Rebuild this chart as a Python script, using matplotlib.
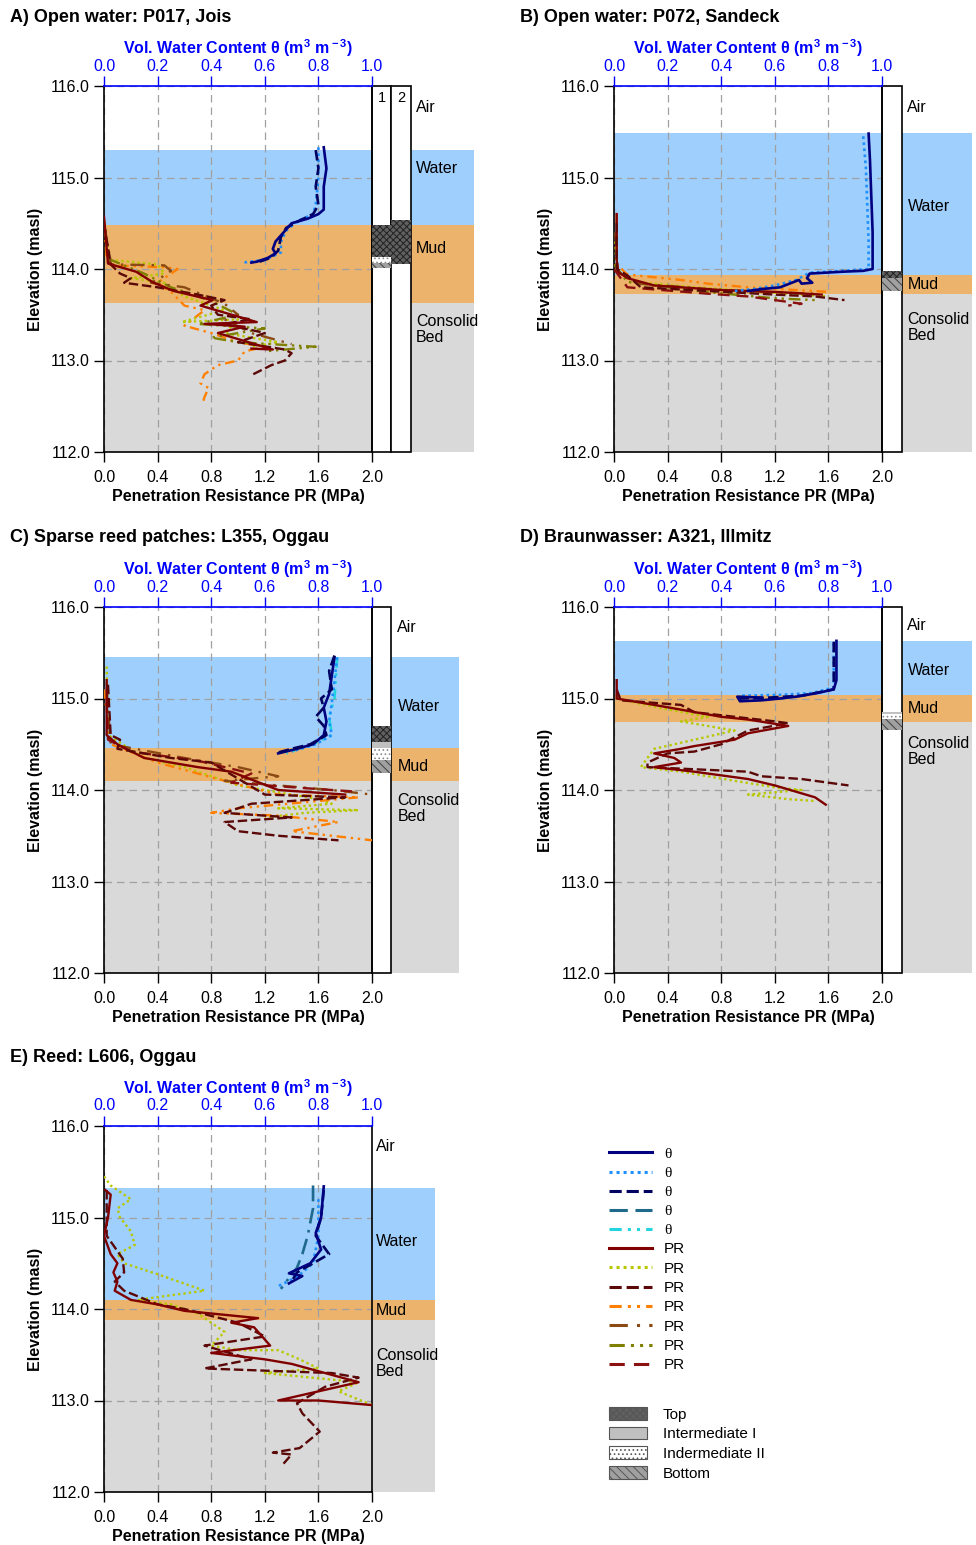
import numpy as np
import matplotlib.pyplot as plt
from matplotlib.patches import Rectangle, Patch
from matplotlib.lines import Line2D

plt.rcParams['font.family'] = ['Liberation Sans', 'DejaVu Sans']
plt.rcParams['mathtext.fontset'] = 'custom'
plt.rcParams['mathtext.rm'] = 'Liberation Sans'
plt.rcParams['mathtext.bf'] = 'Liberation Sans:bold'
plt.rcParams['hatch.linewidth'] = 0.7

# ---------------- data ----------------
# tops of water, mud and consolidated bed (masl)
A_layers = [115.30, 114.48, 113.63]
B_layers = [115.49, 113.93, 113.73]
C_layers = [115.45, 114.46, 114.10]
D_layers = [115.63, 115.04, 114.74]
E_layers = [115.32, 114.10, 113.88]

# core layers: (column, kind, top, bottom)
A_cores = [(0, 'top', 114.48, 114.13), (0, 'int2', 114.13, 114.07), (0, 'bot', 114.07, 114.01),
           (1, 'top', 114.54, 114.05)]
B_cores = [(0, 'top', 113.98, 113.90), (0, 'bot', 113.90, 113.76)]
C_cores = [(0, 'top', 114.70, 114.52), (0, 'int1', 114.52, 114.46), (0, 'int2', 114.46, 114.33),
           (0, 'bot', 114.33, 114.19)]
D_cores = [(0, 'int1', 114.85, 114.83), (0, 'int2', 114.83, 114.78), (0, 'bot', 114.78, 114.66)]
E_cores = []

# water content profiles (theta, elevation)
A_th1 = [(0.82, 115.33), (0.83, 115.1), (0.82, 114.9), (0.82, 114.65), (0.80, 114.6), (0.76, 114.55),
         (0.70, 114.5), (0.67, 114.4), (0.64, 114.3), (0.63, 114.22), (0.64, 114.17), (0.61, 114.12),
         (0.57, 114.08), (0.55, 114.07)]
A_th2 = [(0.80, 115.33), (0.80, 115.0), (0.79, 114.7), (0.78, 114.6), (0.72, 114.52), (0.68, 114.42),
         (0.66, 114.3), (0.66, 114.18), (0.60, 114.1), (0.52, 114.07)]
A_th3 = [(0.79, 115.3), (0.80, 115.1), (0.79, 114.9), (0.80, 114.7), (0.78, 114.6), (0.73, 114.53),
         (0.68, 114.45), (0.66, 114.35), (0.65, 114.2), (0.62, 114.12), (0.58, 114.08)]

B_th1 = [(0.95, 115.48), (0.955, 115.2), (0.96, 114.8), (0.965, 114.4), (0.965, 114.0), (0.93, 113.98),
         (0.85, 113.97), (0.73, 113.95), (0.72, 113.9), (0.74, 113.85), (0.70, 113.84), (0.69, 113.88),
         (0.62, 113.8), (0.55, 113.78), (0.50, 113.76)]
B_th2 = [(0.93, 115.45), (0.94, 115.1), (0.945, 114.7), (0.95, 114.3), (0.95, 114.0), (0.85, 113.98),
         (0.73, 113.96), (0.68, 113.88), (0.60, 113.82), (0.52, 113.78), (0.45, 113.76)]

C_th1 = [(0.86, 115.45), (0.85, 115.25), (0.84, 115.05), (0.82, 114.9), (0.83, 114.75), (0.82, 114.6),
         (0.78, 114.5), (0.72, 114.45), (0.65, 114.4)]
C_th2 = [(0.87, 115.45), (0.86, 115.2), (0.85, 114.95), (0.84, 114.75), (0.85, 114.6), (0.79, 114.5),
         (0.70, 114.42)]
C_th3 = [(0.86, 115.47), (0.84, 115.3), (0.85, 115.1), (0.81, 115.0), (0.82, 114.9), (0.79, 114.8),
         (0.82, 114.7), (0.83, 114.6), (0.77, 114.5), (0.70, 114.45), (0.65, 114.41)]
C_th5 = [(0.87, 115.45), (0.86, 115.0), (0.84, 114.8), (0.85, 114.6), (0.78, 114.5), (0.72, 114.44),
         (0.68, 114.4)]

D_th1 = [(0.83, 115.63), (0.83, 115.4), (0.83, 115.2), (0.82, 115.1), (0.76, 115.06), (0.68, 115.02),
         (0.62, 115.0), (0.55, 114.98), (0.47, 114.97), (0.46, 115.02), (0.55, 115.01)]
D_th2 = [(0.82, 115.6), (0.82, 115.3), (0.82, 115.12), (0.74, 115.06), (0.62, 115.04), (0.47, 115.03)]
D_th3 = [(0.82, 115.62), (0.82, 115.1), (0.70, 115.03), (0.58, 115.01), (0.47, 115.0)]

E_th1 = [(0.82, 115.34), (0.81, 115.0), (0.79, 114.83), (0.81, 114.65), (0.77, 114.5), (0.69, 114.39),
         (0.74, 114.36), (0.69, 114.28)]
E_th2 = [(0.80, 115.2), (0.80, 114.8), (0.78, 114.5), (0.72, 114.35), (0.65, 114.25)]
E_th3 = [(0.82, 115.3), (0.81, 115.0), (0.79, 114.8), (0.84, 114.6), (0.78, 114.5), (0.72, 114.4),
         (0.70, 114.3)]
E_th4 = [(0.78, 115.35), (0.78, 115.1), (0.76, 114.8), (0.74, 114.6), (0.72, 114.45), (0.68, 114.3),
         (0.66, 114.22)]

# penetration resistance profiles (PR in MPa, elevation)
A_pr1 = [(0.0, 114.57), (0.03, 114.06), (0.24, 113.97), (0.37, 113.85), (0.52, 113.76), (0.81, 113.66),
         (0.72, 113.6), (1.14, 113.42), (0.75, 113.4), (1.05, 113.37), (0.85, 113.3), (1.26, 113.12),
         (1.1, 113.13)]
A_pr2 = [(0.0, 114.5), (0.04, 114.1), (0.4, 114.05), (0.45, 113.95), (0.2, 113.9), (0.45, 113.85),
         (0.6, 113.7), (0.9, 113.55), (0.58, 113.42), (1.0, 113.45), (0.9, 113.3), (1.3, 113.2),
         (1.1, 113.15)]
A_pr3 = [(0.0, 114.5), (0.05, 114.05), (0.12, 113.95), (0.2, 113.9), (0.15, 113.85), (0.4, 113.8),
         (0.7, 113.72), (0.9, 113.66), (0.8, 113.6), (0.85, 113.5), (1.1, 113.45), (0.9, 113.4),
         (1.2, 113.3), (1.0, 113.2), (1.35, 113.12), (1.4, 113.08), (1.35, 113.0), (1.25, 112.95),
         (1.1, 112.84)]
A_pr4 = [(0.0, 114.55), (0.02, 114.1), (0.05, 114.04), (0.45, 114.02), (0.55, 114.0), (0.40, 113.85),
         (0.5, 113.75), (0.6, 113.6), (0.75, 113.55), (0.6, 113.38), (0.8, 113.3), (1.0, 113.2),
         (1.2, 113.15), (1.05, 113.1), (1.0, 113.0), (0.85, 112.95), (0.75, 112.85), (0.72, 112.75),
         (0.78, 112.7), (0.75, 112.6), (0.74, 112.55)]
A_pr5 = [(0.0, 114.5), (0.05, 114.05), (0.45, 114.04), (0.5, 113.98), (0.42, 113.9), (0.35, 113.85),
         (0.6, 113.8), (0.9, 113.62), (1.0, 113.5), (0.9, 113.45), (1.1, 113.3), (1.4, 113.18)]
A_pr6 = [(0.0, 114.45), (0.05, 114.1), (0.3, 113.95), (0.5, 113.8), (0.8, 113.65), (1.0, 113.5),
         (0.7, 113.4), (1.2, 113.35), (0.8, 113.25), (1.0, 113.2), (1.58, 113.15), (1.2, 113.1)]

B_pr1 = [(0.02, 114.6), (0.02, 114.1), (0.03, 113.97), (0.1, 113.9), (0.3, 113.82), (0.8, 113.77),
         (1.2, 113.75), (1.55, 113.72)]
B_pr2 = [(0.01, 114.3), (0.02, 113.98), (0.15, 113.86), (0.6, 113.8), (1.0, 113.76), (1.4, 113.72),
         (1.6, 113.7)]
B_pr3 = [(0.02, 114.5), (0.02, 114.0), (0.1, 113.93), (0.2, 113.8), (0.7, 113.76), (1.2, 113.72),
         (1.5, 113.7), (1.72, 113.66)]
B_pr4 = [(0.02, 114.6), (0.02, 114.05), (0.1, 113.94), (0.5, 113.88), (0.7, 113.84), (1.0, 113.8),
         (1.6, 113.75)]
B_pr5 = [(0.01, 114.4), (0.03, 113.96), (0.2, 113.84), (0.7, 113.78), (1.1, 113.75), (1.5, 113.73)]
B_pr6 = [(0.0, 114.05), (0.1, 113.86), (0.5, 113.78), (0.9, 113.72), (1.2, 113.68), (1.5, 113.66)]
B_pr7 = [(0.0, 114.0), (0.1, 113.8), (0.7, 113.73), (1.0, 113.7), (1.2, 113.66), (1.4, 113.62),
         (1.3, 113.6)]

C_pr1 = [(0.02, 115.2), (0.02, 114.6), (0.1, 114.5), (0.3, 114.35), (0.7, 114.25), (0.95, 114.2),
         (1.3, 114.0), (1.8, 113.95)]
C_pr2 = [(0.02, 115.35), (0.03, 114.6), (0.3, 114.35), (0.6, 114.25), (1.0, 114.05), (1.6, 113.9),
         (1.7, 113.85), (1.3, 113.8), (1.9, 113.78), (1.5, 113.75), (1.2, 113.7)]
C_pr3 = [(0.03, 115.15), (0.05, 114.6), (0.12, 114.55), (0.1, 114.45), (0.5, 114.35), (0.8, 114.3),
         (1.2, 113.95), (1.8, 113.92), (1.1, 113.85), (0.9, 113.75), (1.4, 113.7), (0.9, 113.65),
         (1.0, 113.55), (1.3, 113.5), (1.75, 113.45)]
C_pr4 = [(0.0, 115.1), (0.05, 114.5), (0.4, 114.3), (0.9, 114.1), (1.3, 113.95), (1.9, 113.92),
         (1.0, 113.8), (0.8, 113.75), (1.3, 113.72), (1.75, 113.65), (1.4, 113.55), (2.0, 113.45)]
C_pr5 = [(0.02, 115.1), (0.05, 114.5), (0.6, 114.35), (1.0, 114.25), (1.3, 114.15), (0.9, 114.1),
         (1.7, 114.0), (2.0, 113.95)]
C_pr7 = [(0.02, 115.0), (0.03, 114.55), (0.2, 114.42), (0.7, 114.32), (1.1, 114.18), (0.95, 114.08),
         (1.5, 114.02), (1.9, 113.98)]

D_pr1 = [(0.02, 115.2), (0.02, 115.0), (0.3, 114.93), (0.8, 114.8), (1.0, 114.77), (1.3, 114.7),
         (1.0, 114.62), (0.9, 114.55), (0.6, 114.48), (0.5, 114.45), (0.3, 114.4), (0.45, 114.35),
         (0.5, 114.3), (0.3, 114.25), (0.6, 114.2), (1.0, 114.12), (1.2, 114.05), (1.5, 113.92),
         (1.58, 113.84)]
D_pr2 = [(0.02, 115.0), (0.4, 114.88), (0.7, 114.8), (0.5, 114.75), (0.9, 114.65), (0.6, 114.55),
         (0.3, 114.45), (0.25, 114.35), (0.2, 114.25), (0.5, 114.2), (0.9, 114.1), (1.2, 114.03),
         (1.4, 114.0), (1.0, 113.95), (1.3, 113.9), (1.5, 113.88)]
D_pr3 = [(0.02, 115.1), (0.05, 114.98), (0.5, 114.93), (0.6, 114.85), (1.2, 114.75), (1.3, 114.73),
         (1.0, 114.65), (0.8, 114.5), (0.6, 114.42), (0.4, 114.4), (0.25, 114.3), (0.25, 114.25),
         (1.0, 114.2), (1.1, 114.15), (1.4, 114.12), (1.75, 114.05)]

E_pr1 = [(0.01, 115.3), (0.05, 115.25), (0.03, 115.0), (0.0, 114.8), (0.05, 114.6), (0.1, 114.5),
         (0.07, 114.4), (0.1, 114.3), (0.08, 114.2), (0.2, 114.1), (0.4, 114.05), (0.6, 113.98),
         (1.15, 113.9), (0.95, 113.85), (1.12, 113.8), (1.24, 113.6), (0.8, 113.52), (1.2, 113.45),
         (1.4, 113.4), (1.9, 113.2), (1.6, 113.1), (1.3, 113.0), (1.6, 113.0), (2.0, 112.95)]
E_pr2 = [(0.0, 115.45), (0.05, 115.35), (0.2, 115.2), (0.1, 115.1), (0.12, 115.0), (0.2, 114.85),
         (0.23, 114.7), (0.1, 114.6), (0.15, 114.5), (0.4, 114.38), (0.75, 114.2), (0.25, 114.1),
         (0.5, 114.05), (0.7, 113.95), (0.9, 113.75), (0.8, 113.6), (1.0, 113.55), (1.3, 113.55),
         (1.46, 113.45), (1.6, 113.35), (1.2, 113.3), (1.9, 113.2), (1.75, 113.1), (2.0, 112.95)]
E_pr3 = [(0.02, 115.3), (0.02, 114.8), (0.14, 114.55), (0.15, 114.4), (0.08, 114.3), (0.15, 114.2),
         (0.4, 114.05), (0.6, 114.0), (1.0, 113.85), (1.2, 113.7), (0.75, 113.6), (1.1, 113.45),
         (0.75, 113.35), (1.7, 113.3), (1.9, 113.25), (1.65, 113.15), (1.44, 112.97), (1.48, 112.86),
         (1.61, 112.66), (1.46, 112.48), (1.26, 112.43), (1.4, 112.41), (1.34, 112.31)]

# ---------------- styles ----------------
STY = {
    'th1': dict(color='#000080', ls='-'),
    'th2': dict(color='#1E8FFF', ls=(0, (1, 1.3))),
    'th3': dict(color='#000060', ls=(0, (4, 1.6))),
    'th4': dict(color='#1F6A8C', ls=(0, (6, 2.5, 6, 2.5, 1, 2.5))),
    'th5': dict(color='#22D4E0', ls=(0, (4, 2, 1, 2, 1, 2))),
    'pr1': dict(color='#800000', ls='-'),
    'pr2': dict(color='#B8C800', ls=(0, (1, 1.3))),
    'pr3': dict(color='#5A0808', ls=(0, (4, 1.6))),
    'pr4': dict(color='#FF8000', ls=(0, (4, 2, 1, 2, 1, 2))),
    'pr5': dict(color='#8B4A13', ls=(0, (6, 3, 1, 3))),
    'pr6': dict(color='#7F7F00', ls=(0, (5, 2, 1, 2, 1, 2))),
    'pr7': dict(color='#8B1010', ls=(0, (5, 3))),
}
CORE = {
    'top': dict(fc='#606060', hatch='xxxxx', ec='#222222'),
    'int1': dict(fc='#c0c0c0', hatch=None, ec='#c0c0c0'),
    'int2': dict(fc='white', hatch='....', ec='#8a8a8a'),
    'bot': dict(fc='#a0a0a0', hatch='\\\\\\\\', ec='#404040'),
}
BG = ['#9fcffd', '#ebb36c', '#d9d9d9']
FS = 11.5

W, H = 976, 1545
fig = plt.figure(figsize=(W / 100, H / 100), dpi=100)


def panel(x0, y0, title, layers, bg_right, ncol, cw, cores, lab_x, lab_y, ths, prs):
    ax = fig.add_axes([x0 / W, 1 - (y0 + 366) / H, 268 / W, 366 / H])
    ax.set_xlim(0, 2.0)
    ax.set_ylim(112.0, 116.0)
    ax.set_axisbelow(True)
    bounds = layers + [112.0]
    for c, t, b in zip(BG, bounds[:-1], bounds[1:]):
        ax.add_patch(Rectangle((0, b), bg_right, t - b, fc=c, ec='none', zorder=0, clip_on=False))
    ax.set_xticks(np.arange(0, 2.01, 0.4))
    ax.set_xticklabels(['%.1f' % v for v in np.arange(0, 2.01, 0.4)])
    ax.set_yticks([112, 113, 114, 115, 116])
    ax.set_yticklabels(['112.0', '113.0', '114.0', '115.0', '116.0'])
    ax.grid(True, color='#a0a0a0', ls=(0, (6, 4)), lw=0.9)
    ax.tick_params(labelsize=FS, length=7, width=1, direction='out')
    ax.tick_params(axis='x', pad=6)
    ax.tick_params(axis='y', pad=3)
    ax.spines['top'].set_visible(False)
    for s in ['left', 'right', 'bottom']:
        ax.spines[s].set_linewidth(1.2)
    ax.set_xlabel('Penetration Resistance PR (MPa)', fontsize=FS, fontweight='bold', labelpad=3)
    ax.set_ylabel('Elevation (masl)', fontsize=FS, fontweight='bold', labelpad=6)
    fig.text((x0 - 94) / W, 1 - 17 / H - (y0 - 86) / H, title, fontsize=13, fontweight='bold',
             va='center', ha='left')

    # core columns
    for i in range(ncol):
        ax.add_patch(Rectangle((2.0 + i * cw, 112.0), cw, 4.0, fc='white', ec='black', lw=1.2,
                               zorder=2, clip_on=False))
    for col, kind, t, b in cores:
        st = CORE[kind]
        ax.add_patch(Rectangle((2.0 + col * cw, b), cw, t - b, fc=st['fc'], ec=st['ec'],
                               hatch=st['hatch'], lw=0, zorder=3, clip_on=False))
    if ncol > 1:
        for i in range(ncol):
            ax.text(2.0 + (i + 0.5) * cw, 115.87, str(i + 1), ha='center', va='center',
                    fontsize=10.5, zorder=4, clip_on=False)

    names = ['Air', 'Water', 'Mud', 'Consolid\nBed']
    for n, yy in zip(names, lab_y):
        ax.text(lab_x, yy, n, ha='left', va='center', fontsize=FS, linespacing=1.1, clip_on=False)

    for key, d in prs:
        a = np.array(d)
        ax.plot(a[:, 0], a[:, 1], lw=1.7, zorder=5, **STY[key])

    ax2 = ax.twiny()
    ax2.set_xlim(0, 1.0)
    ax2.set_xticks(np.arange(0, 1.01, 0.2))
    ax2.set_xticklabels(['%.1f' % v for v in np.arange(0, 1.01, 0.2)])
    for s in ['left', 'right', 'bottom']:
        ax2.spines[s].set_visible(False)
    ax2.spines['top'].set_color('#0000ff')
    ax2.spines['top'].set_linewidth(1.2)
    ax2.tick_params(axis='x', colors='#0000ff', labelsize=FS, length=7, width=1, pad=2)
    ax2.set_xlabel(r'Vol. Water Content θ (m$^{\bf 3}$ m$^{\bf -3}$)', color='#0000ff',
                   fontsize=FS, fontweight='bold', labelpad=3)
    for key, d in ths:
        a = np.array(d)
        ax2.plot(a[:, 0], a[:, 1], lw=1.9, zorder=5, **STY[key])
    ax2.set_ylim(112.0, 116.0)
    return ax


panel(104, 86, 'A) Open water: P017, Jois', A_layers, 2.76, 2, 0.145, A_cores, 2.33,
      [115.77, 115.10, 114.22, 113.34],
      [('th2', A_th2), ('th3', A_th3), ('th1', A_th1)],
      [('pr4', A_pr4), ('pr2', A_pr2), ('pr6', A_pr6), ('pr5', A_pr5), ('pr3', A_pr3), ('pr1', A_pr1)])
panel(614, 86, 'B) Open water: P072, Sandeck', B_layers, 2.67, 1, 0.15, B_cores, 2.19,
      [115.77, 114.68, 113.83, 113.36],
      [('th2', B_th2), ('th1', B_th1)],
      [('pr2', B_pr2), ('pr6', B_pr6), ('pr4', B_pr4), ('pr5', B_pr5), ('pr1', B_pr1), ('pr7', B_pr7),
       ('pr3', B_pr3)])
panel(104, 607, 'C) Sparse reed patches: L355, Oggau', C_layers, 2.65, 1, 0.142, C_cores, 2.19,
      [115.78, 114.91, 114.26, 113.80],
      [('th5', C_th5), ('th2', C_th2), ('th1', C_th1), ('th3', C_th3)],
      [('pr2', C_pr2), ('pr4', C_pr4), ('pr5', C_pr5), ('pr7', C_pr7), ('pr1', C_pr1), ('pr3', C_pr3)])
panel(614, 607, 'D) Braunwasser: A321, Illmitz', D_layers, 2.67, 1, 0.15, D_cores, 2.19,
      [115.80, 115.31, 114.89, 114.42],
      [('th2', D_th2), ('th3', D_th3), ('th1', D_th1)],
      [('pr2', D_pr2), ('pr3', D_pr3), ('pr1', D_pr1)])
panel(104, 1126, 'E) Reed: L606, Oggau', E_layers, 2.47, 0, 0.15, E_cores, 2.03,
      [115.78, 114.74, 113.98, 113.40],
      [('th4', E_th4), ('th2', E_th2), ('th3', E_th3), ('th1', E_th1)],
      [('pr2', E_pr2), ('pr3', E_pr3), ('pr1', E_pr1)])

# ---------------- legends ----------------
line_keys = ['th1', 'th2', 'th3', 'th4', 'th5', 'pr1', 'pr2', 'pr3', 'pr4', 'pr5', 'pr6', 'pr7']
line_labels = ['θ'] * 5 + ['PR'] * 7
handles = [Line2D([], [], lw=2.2, **STY[k]) for k in line_keys]
leg1 = fig.legend(handles, line_labels, loc='upper left', bbox_to_anchor=(603 / W, 1 - 1141 / H),
                  frameon=False, fontsize=11, handlelength=2.8, handletextpad=0.8,
                  labelspacing=0.35, borderaxespad=0)
for t in leg1.get_texts()[:5]:
    t.set_family(['Liberation Serif', 'DejaVu Serif'])

core_labels = ['Top', 'Intermediate I', 'Indermediate II', 'Bottom']
core_handles = []
for k in ['top', 'int1', 'int2', 'bot']:
    st = CORE[k]
    core_handles.append(Patch(fc=st['fc'], ec='#555555', hatch=st['hatch'], lw=0.8))
leg2 = fig.legend(core_handles, core_labels, loc='upper left', bbox_to_anchor=(603 / W, 1 - 1401 / H),
                  frameon=False, fontsize=11, handlelength=2.5, handleheight=0.9,
                  handletextpad=1.0, labelspacing=0.33, borderaxespad=0)

fig.savefig('out.png', dpi=100)
